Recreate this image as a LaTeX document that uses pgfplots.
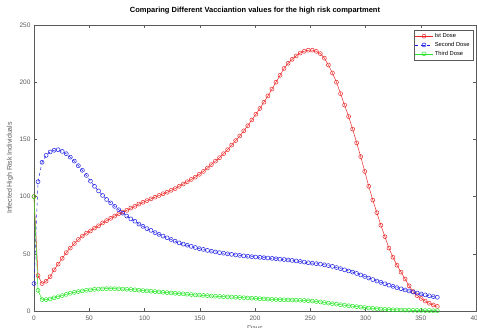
\documentclass[border=0pt]{standalone}
\usepackage{pgfplots}
\usepackage{pgfplotstable}
\pgfplotsset{compat=1.18}
\usepackage{fontspec}
\setmainfont{Liberation Sans}
\definecolor{mred}{RGB}{235,40,40}
\definecolor{mblue}{RGB}{30,30,230}
\definecolor{mgreen}{RGB}{40,230,40}
\definecolor{axgray}{RGB}{90,90,90}
\pgfplotstableread{
t r b g
0 100 24 100
3.65 31 113 18
7.3 24 130 10
10.95 26 136 10
14.6 30 139 10.5
18.25 36 140.5 11.5
21.9 41 141 12.5
25.55 46 139.5 13.5
29.2 51 137.5 14.5
32.85 55 134.5 15.5
36.5 59 131 16.3
40.15 62.5 127 17
43.8 65.5 123 17.6
47.45 68 118.5 18.1
51.1 70 113.5 18.5
54.75 72.5 109 18.9
58.4 74.5 105 19.2
62.05 77 101 19.4
65.7 79 97.5 19.5
69.35 81 94.5 19.5
73 83 91.5 19.5
76.65 85 88.5 19.4
80.3 86.5 85.5 19.2
83.95 88 83 19
87.6 90 80.5 18.8
91.25 91.5 78.5 18.5
94.9 93.5 76 18.2
98.55 95 74 17.9
102.2 96.5 72 17.6
105.85 98 70.5 17.3
109.5 99.5 68.5 17
113.15 101 67 16.7
116.8 102.5 65.5 16.4
120.45 103.8 64 16.1
124.1 105.5 62.5 15.8
127.75 107 61 15.5
131.4 109 59.5 15.2
135.05 111 58.5 15
138.7 113 57.5 14.7
142.35 115 56.5 14.4
146 117 55.5 14.1
149.65 119.5 54.5 13.9
153.3 122 53.8 13.6
156.95 125 53 13.4
160.6 128 52.3 13.1
164.25 131 51.6 12.9
167.9 134 51 12.7
171.55 137.5 50.5 12.5
175.2 141 50 12.4
178.85 145 49.5 12.2
182.5 149 49 12
186.15 153 48.6 11.8
189.8 157.5 48.2 11.6
193.45 162 47.8 11.4
197.1 167 47.5 11.2
200.75 172 47.2 11
204.4 177 46.9 10.8
208.05 182.5 46.6 10.6
211.7 188 46.3 10.4
215.35 194 46 10.2
219 200 45.7 10
222.65 206 45.3 9.9
226.3 212 45 9.8
229.95 216.5 44.6 9.7
233.6 220 44.2 9.6
237.25 223 43.8 9.5
240.9 225.5 43.3 9.4
244.55 227 42.8 9.2
248.2 228 42.2 9
251.85 228 41.8 8.7
255.5 227 41.4 8.3
259.15 225 41 7.9
262.8 221 40.4 7.4
266.45 215 39.7 6.9
270.1 208 39 6.4
273.75 200 38 6
277.4 190 37 5.5
281.05 180 36 5
284.7 170 35 4.6
288.35 159 34 4.2
292 147 32.8 3.8
295.65 135 31.5 3.4
299.3 122 30.2 3
302.95 109 28.8 2.6
306.6 97 27.5 2.3
310.25 86 26.2 2
313.9 75 25 1.7
317.55 65 23.8 1.5
321.2 55 22.6 1.3
324.85 47 21.5 1.1
328.5 40 20.4 1
332.15 34 19.4 0.9
335.8 28 18.4 0.8
339.45 22 17.5 0.7
343.1 17 16.6 0.6
346.75 13.5 15.7 0.5
350.4 11 14.9 0.5
354.05 8.7 14.1 0.4
357.7 6.8 13.3 0.4
361.35 5.3 12.6 0.3
365 4 12 0.3
}\datatable
\begin{document}
\begin{tikzpicture}
\begin{axis}[
  name=ax,
  width=442pt, height=286pt, scale only axis,
  xmin=0, xmax=400, ymin=0, ymax=250,
  xtick={0,50,...,400}, ytick={0,50,...,250},
  tick align=inside, major tick length=3pt,
  axis line style={axgray, line width=0.5pt},
  every tick/.style={axgray, line width=0.4pt},
  ticklabel style={font=\fontsize{6.5}{7}\selectfont, text=axgray},
  /pgf/number format/assume math mode=true,
  xticklabel style={yshift=-1pt},
  title={Comparing Different Vacciantion values for the high risk compartment},
  title style={font=\bfseries\fontsize{7.5}{8}\selectfont, at={(axis description cs:0.5,1)}, anchor=south, yshift=1pt},
  xlabel={Days},
  every axis x label/.style={at={(axis description cs:0.5,0)}, anchor=north, yshift=-11pt, font=\fontsize{7}{8}\selectfont, text=axgray},
  ylabel={Infected High Risk Individuals},
  every axis y label/.style={at={(axis description cs:-0.054,0.5)}, rotate=90, anchor=center, font=\fontsize{7}{8}\selectfont, text=axgray},
  legend style={at={(axis description cs:1,1)}, anchor=north east, xshift=-3pt, yshift=-5pt,
    font=\fontsize{5.8}{6.5}\selectfont, draw=axgray, inner sep=1.2pt, row sep=-0.8pt, line width=0.4pt},
  legend cell align=left,
]
\addplot[mred, line width=0.5pt, mark=o, mark size=2pt] table[x=t, y=r] {\datatable};
\addlegendentry{Ist Dose}
\addplot[mblue, line width=0.5pt, dashed, mark=o, mark size=2pt, mark options={solid}] table[x=t, y=b] {\datatable};
\addlegendentry{Second Dose}
\addplot[mgreen, line width=0.5pt, mark=o, mark size=2pt] table[x=t, y=g] {\datatable};
\addlegendentry{Third Dose}
\end{axis}
\pgfresetboundingbox
\path ([shift={(-34pt,-16pt)}]ax.south west) rectangle ([shift={(1pt,25pt)}]ax.north east);
\end{tikzpicture}
\end{document}
